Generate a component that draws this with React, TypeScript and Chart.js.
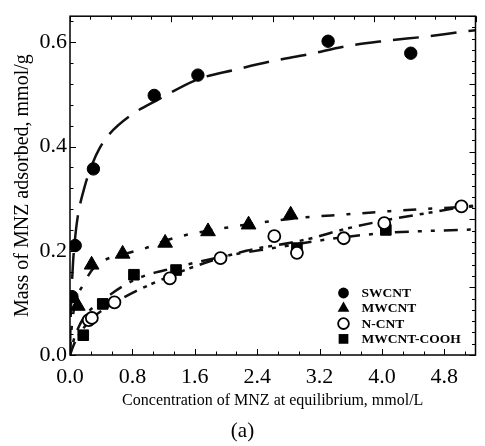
import React, { useEffect, useRef } from 'react';
import { Chart, registerables } from 'chart.js';

Chart.register(...registerables);

// ---- data ----
const seriesNames = ['SWCNT', 'MWCNT', 'N-CNT', 'MWCNT-COOH'];

const swcntX = [0.025, 0.067, 0.3, 1.08, 1.64, 3.31, 4.37];
const swcntY = [0.112, 0.21, 0.357, 0.498, 0.537, 0.602, 0.579];

const mwcntX = [0.1, 0.277, 0.675, 1.22, 1.77, 2.29, 2.83];
const mwcntY = [0.094, 0.173, 0.194, 0.215, 0.237, 0.25, 0.269];

const ncntX = [0.24, 0.28, 0.57, 1.28, 1.93, 2.62, 2.91, 3.51, 4.03, 5.02];
const ncntY = [0.067, 0.071, 0.101, 0.147, 0.186, 0.228, 0.196, 0.224, 0.253, 0.285];

const coohX = [0.17, 0.42, 0.82, 1.36, 2.91, 4.05];
const coohY = [0.038, 0.098, 0.154, 0.163, 0.205, 0.24];

// fitted curves
const swcntFitX = [0, 0.005, 0.02, 0.04, 0.063, 0.1, 0.19, 0.29, 0.38, 0.5, 0.8, 1.13, 1.64, 2.14, 2.6, 3.06, 3.56, 4.07, 4.57, 5.03, 5.2];
const swcntFitY = [0, 0.05, 0.12, 0.18, 0.221, 0.266, 0.324, 0.368, 0.397, 0.423, 0.462, 0.49, 0.529, 0.548, 0.564, 0.577, 0.593, 0.603, 0.611, 0.62, 0.623];

const mwcntFitX = [0, 0.02, 0.06, 0.17, 0.32, 0.44, 0.78, 0.97, 1.2, 1.45, 2.0, 2.55, 2.93, 3.56, 4.1, 4.65, 5.2];
const mwcntFitY = [0, 0.05, 0.095, 0.135, 0.17, 0.182, 0.197, 0.205, 0.218, 0.229, 0.244, 0.256, 0.263, 0.27, 0.276, 0.281, 0.285];

const ncntFitX = [0, 0.05, 0.12, 0.28, 0.57, 0.84, 1.26, 1.64, 2.26, 2.81, 3.1, 3.48, 4.03, 4.57, 5.0, 5.2];
const ncntFitY = [0, 0.02, 0.04, 0.07, 0.1, 0.122, 0.15, 0.172, 0.2, 0.215, 0.224, 0.24, 0.258, 0.272, 0.283, 0.287];

const coohFitX = [0, 0.05, 0.17, 0.42, 0.84, 1.36, 1.93, 2.64, 3.31, 4.03, 4.6, 5.2];
const coohFitY = [0, 0.03, 0.07, 0.105, 0.145, 0.168, 0.188, 0.206, 0.222, 0.234, 0.238, 0.241];

const xMin = 0;
const xMax = 5.2;
const yMin = 0;
const yMax = 0.65;
const xStep = 0.8;
const yStep = 0.2;

const xTitle = 'Concentration of MNZ at equilibrium, mmol/L';
const yTitle = 'Mass of MNZ adsorbed, mmol/g';
const caption = '(a)';

const SERIF = "'Liberation Serif', 'Times New Roman', serif";

const toPts = (xs: number[], ys: number[]) => xs.map((x, i) => ({ x, y: ys[i] }));

function drawMarker(ctx: CanvasRenderingContext2D, kind: string, x: number, y: number, r: number) {
  ctx.beginPath();
  if (kind === 'circle' || kind === 'open') {
    ctx.arc(x, y, r, 0, Math.PI * 2);
  } else if (kind === 'triangle') {
    const rr = r * 1.25;
    ctx.moveTo(x, y - rr);
    ctx.lineTo(x + rr * 0.866, y + rr * 0.5);
    ctx.lineTo(x - rr * 0.866, y + rr * 0.5);
    ctx.closePath();
  } else {
    ctx.rect(x - r * 0.9, y - r * 0.9, r * 1.8, r * 1.8);
  }
  if (kind === 'open') {
    ctx.fillStyle = '#fff';
    ctx.fill();
    ctx.lineWidth = 1.8;
    ctx.strokeStyle = '#000';
    ctx.stroke();
  } else {
    ctx.fillStyle = '#000';
    ctx.fill();
  }
}

const framePlugin = {
  id: 'frameTicks',
  afterDatasetsDraw(chart: any) {
    const { ctx, chartArea } = chart;
    const { left, right, top, bottom } = chartArea;
    const xs = chart.scales.x;
    const ys = chart.scales.y;
    ctx.save();
    ctx.strokeStyle = '#000';
    ctx.lineWidth = 1;
    const line = (x1: number, y1: number, x2: number, y2: number) => {
      ctx.beginPath();
      ctx.moveTo(x1, y1);
      ctx.lineTo(x2, y2);
      ctx.stroke();
    };
    // bottom: major every 0.8, 2 minors between
    const bMinor = xStep / 3;
    for (let i = 0; i * bMinor <= xMax + 1e-9; i++) {
      const px = Math.round(xs.getPixelForValue(i * bMinor)) + 0.5;
      line(px, bottom, px, bottom - (i % 3 === 0 ? 6 : 3.5));
    }
    // top: major every 1.3, minor every 0.26
    const tMinor = xMax / 20;
    for (let i = 0; i <= 20; i++) {
      const px = Math.round(xs.getPixelForValue(i * tMinor)) + 0.5;
      line(px, top, px, top + (i % 5 === 0 ? 6 : 3.5));
    }
    // left: major every 0.2, minor every 0.04
    const lMinor = yStep / 5;
    for (let i = 0; i * lMinor <= yMax + 1e-9; i++) {
      const py = Math.round(ys.getPixelForValue(i * lMinor)) + 0.5;
      line(left, py, left + (i % 5 === 0 ? 6 : 3.5), py);
    }
    // right: 30 small divisions
    const rMinor = yMax / 30;
    for (let i = 0; i <= 30; i++) {
      const py = Math.round(ys.getPixelForValue(i * rMinor)) + 0.5;
      line(right, py, right - (i % 6 === 0 ? 6 : 3.5), py);
    }
    ctx.lineWidth = 1.5;
    ctx.strokeRect(left, top, right - left, bottom - top);

    // legend inside the plot, lower right
    const kinds = ['circle', 'triangle', 'open', 'square'];
    const mx = right - 132;
    const tx = right - 114;
    ctx.font = `bold 13.5px ${SERIF}`;
    ctx.textBaseline = 'middle';
    ctx.textAlign = 'left';
    seriesNames.forEach((name, i) => {
      const yy = bottom - 62 + i * 15.3;
      drawMarker(ctx, kinds[i], mx, yy, 5.4);
      ctx.fillStyle = '#000';
      ctx.fillText(name, tx, yy + 0.5);
    });
    ctx.restore();
  },
};

export default function App() {
  const ref = useRef<HTMLCanvasElement>(null);

  useEffect(() => {
    if (!ref.current) return;
    const lineBase = {
      showLine: true,
      pointRadius: 0,
      pointHoverRadius: 0,
      borderColor: '#111',
      borderWidth: 2.5,
      tension: 0.4,
      cubicInterpolationMode: 'monotone' as const,
      fill: false,
    };
    const chart = new Chart(ref.current, {
      type: 'scatter',
      data: {
        datasets: [
          {
            label: seriesNames[0],
            data: toPts(swcntX, swcntY),
            pointStyle: 'circle',
            pointRadius: 6.2,
            backgroundColor: '#000',
            borderColor: '#000',
            borderWidth: 1,
          },
          {
            label: seriesNames[1],
            data: toPts(mwcntX, mwcntY),
            pointStyle: 'triangle',
            pointRadius: 8.5,
            backgroundColor: '#000',
            borderColor: '#000',
            borderWidth: 1,
          },
          {
            label: seriesNames[2],
            data: toPts(ncntX, ncntY),
            pointStyle: 'circle',
            pointRadius: 6,
            backgroundColor: '#fff',
            borderColor: '#000',
            borderWidth: 1.8,
          },
          {
            label: seriesNames[3],
            data: toPts(coohX, coohY),
            pointStyle: 'rect',
            pointRadius: 7.5,
            backgroundColor: '#000',
            borderColor: '#000',
            borderWidth: 1,
          },
          { ...lineBase, label: 'SWCNT fit', data: toPts(swcntFitX, swcntFitY), borderDash: [26, 12] },
          { ...lineBase, label: 'MWCNT fit', data: toPts(mwcntFitX, mwcntFitY), borderDash: [13, 12, 4, 12] },
          { ...lineBase, label: 'N-CNT fit', data: toPts(ncntFitX, ncntFitY), borderDash: [14, 7, 4, 5, 4, 7] },
          { ...lineBase, label: 'MWCNT-COOH fit', data: toPts(coohFitX, coohFitY), borderDash: [4, 9, 4, 9, 14, 9] },
        ] as any,
      },
      options: {
        animation: false,
        responsive: true,
        maintainAspectRatio: false,
        devicePixelRatio: 1,
        layout: { padding: { left: 0, right: 2, top: 16, bottom: 0 } },
        plugins: {
          legend: { display: false },
          tooltip: { enabled: false },
        },
        scales: {
          x: {
            type: 'linear',
            min: xMin,
            max: xMax,
            grid: { display: false, drawTicks: false },
            border: { display: false },
            ticks: {
              stepSize: xStep,
              includeBounds: false,
              autoSkip: false,
              maxRotation: 0,
              padding: 9,
              color: '#000',
              font: { family: SERIF, size: 22 },
              callback: (v: any) => Number(v).toFixed(1),
            },
            title: {
              display: true,
              text: xTitle,
              color: '#000',
              font: { family: SERIF, size: 16 },
              padding: { top: 0, bottom: 36 },
            },
            afterFit: (s: any) => {
              s.height = 91;
            },
          },
          y: {
            type: 'linear',
            min: yMin,
            max: yMax,
            grid: { display: false, drawTicks: false },
            border: { display: false },
            ticks: {
              stepSize: yStep,
              includeBounds: false,
              autoSkip: false,
              padding: 3,
              color: '#000',
              font: { family: SERIF, size: 22 },
              callback: (v: any) => Number(v).toFixed(1),
            },
            title: {
              display: true,
              text: yTitle,
              color: '#000',
              font: { family: SERIF, size: 20 },
              padding: { top: 11, bottom: 0 },
            },
            afterFit: (s: any) => {
              s.width = 70;
            },
          },
        },
      } as any,
      plugins: [framePlugin],
    });
    return () => chart.destroy();
  }, []);

  return (
    <div style={{ position: 'fixed', left: 0, top: 0, width: 485, height: 446, background: '#fff' }}>
      <canvas ref={ref} width={485} height={446} style={{ display: 'block' }} />
      <div
        style={{
          position: 'absolute',
          left: 0,
          top: 418,
          width: 485,
          textAlign: 'center',
          fontFamily: SERIF,
          fontSize: 21,
          lineHeight: '24px',
          color: '#000',
        }}
      >
        {caption}
      </div>
    </div>
  );
}
